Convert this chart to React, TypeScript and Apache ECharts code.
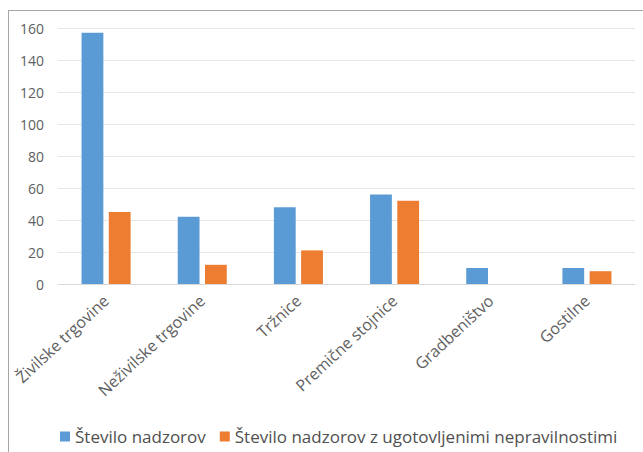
import React, { useEffect, useRef } from "react";
import * as echarts from "echarts";

const categories = [
  "Živilske trgovine",
  "Neživilske trgovine",
  "Tržnice",
  "Premične stojnice",
  "Gradbeništvo",
  "Gostilne",
];
const seriesNames = ["Število nadzorov", "Število nadzorov z ugotovljenimi nepravilnostimi"];
const nadzori = [157, 42, 48, 56, 10, 10];
const nepravilnosti = [45, 12, 21, 52, 0, 8];

export default function App() {
  const ref = useRef<HTMLDivElement>(null);
  useEffect(() => {
    if (!ref.current) return;
    const chart = echarts.init(ref.current, undefined, { renderer: "svg" });
    const font = "Open Sans, DejaVu Sans, sans-serif";
    chart.setOption({
      animation: false,
      backgroundColor: "#ffffff",
      textStyle: { fontFamily: font },
      grid: { left: 58, right: 8, top: 28, bottom: 168 },
      legend: {
        bottom: 2,
        left: 55,
        itemWidth: 10,
        itemHeight: 10,
        itemGap: 14,
        icon: "rect",
        textStyle: { color: "#505050", fontSize: 17, fontFamily: font },
        data: seriesNames,
      },
      xAxis: {
        type: "category",
        data: categories,
        axisLine: { lineStyle: { color: "#d9d9d9" } },
        axisTick: { show: false },
        axisLabel: {
          rotate: 43,
          interval: 0,
          color: "#606060",
          fontSize: 16,
          margin: 14,
        },
      },
      yAxis: {
        type: "value",
        min: 0,
        max: 160,
        interval: 20,
        axisLine: { show: false },
        axisTick: { show: false },
        axisLabel: { color: "#606060", fontSize: 14, margin: 14 },
        splitLine: { lineStyle: { color: "#e6e6e6" } },
      },
      series: [
        {
          name: seriesNames[0],
          type: "bar",
          data: nadzori,
          itemStyle: { color: "#5b9bd5" },
          barGap: "25%",
          barCategoryGap: "49%",
        },
        {
          name: seriesNames[1],
          type: "bar",
          data: nepravilnosti,
          itemStyle: { color: "#ed7d31" },
        },
      ],
      graphic: [
        {
          type: "line",
          shape: { x1: 8, y1: 10.5, x2: 643, y2: 10.5 },
          style: { stroke: "#a6a6a6", lineWidth: 1 },
        },
        {
          type: "line",
          shape: { x1: 8.5, y1: 10, x2: 8.5, y2: 452 },
          style: { stroke: "#a6a6a6", lineWidth: 1 },
        },
      ],
    });
    return () => chart.dispose();
  }, []);
  return (
    <div
      ref={ref}
      style={{ position: "fixed", left: 0, top: 0, width: 643, height: 452 }}
    />
  );
}
